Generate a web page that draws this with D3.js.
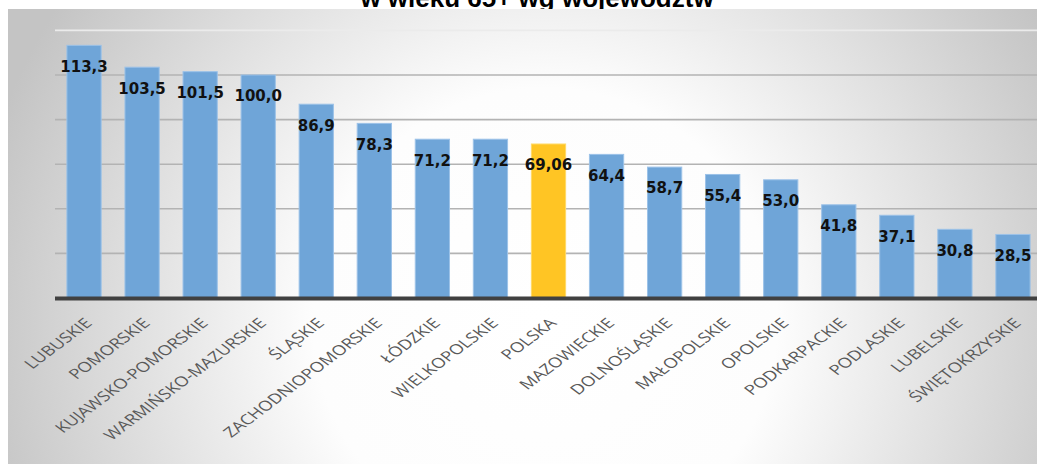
<!DOCTYPE html>
<html>
<head>
<meta charset="utf-8">
<script src="https://cdn.jsdelivr.net/npm/d3@7"></script>
<style>
  html, body { margin: 0; padding: 0; background: #ffffff; }
  svg { display: block; }
</style>
</head>
<body>
<svg id="chart" width="1037" height="464"></svg>
<script>
// ---- data ----
const categories = ["LUBUSKIE","POMORSKIE","KUJAWSKO-POMORSKIE","WARMIŃSKO-MAZURSKIE","ŚLĄSKIE",
  "ZACHODNIOPOMORSKIE","ŁÓDZKIE","WIELKOPOLSKIE","POLSKA","MAZOWIECKIE","DOLNOŚLĄSKIE",
  "MAŁOPOLSKIE","OPOLSKIE","PODKARPACKIE","PODLASKIE","LUBELSKIE","ŚWIĘTOKRZYSKIE"];
const values = [113.3,103.5,101.5,100.0,86.9,78.3,71.2,71.2,69.06,64.4,58.7,55.4,53.0,41.8,37.1,30.8,28.5];
const valueLabels = ["113,3","103,5","101,5","100,0","86,9","78,3","71,2","71,2","69,06","64,4","58,7","55,4","53,0","41,8","37,1","30,8","28,5"];
const highlight = ["POLSKA"];
const gridTicks = [20,40,60,80,100,120];
const titleText = "w wieku 65+ wg województw";

const W = 1037, H = 464;
const svg = d3.select("#chart");

// background gradient
const defs = svg.append("defs");
const rg = defs.append("radialGradient").attr("id","bg")
  .attr("gradientUnits","userSpaceOnUse")
  .attr("cx",545).attr("cy",320).attr("r",580);
rg.append("stop").attr("offset","0").attr("stop-color","#ffffff");
rg.append("stop").attr("offset","0.4").attr("stop-color","#fdfdfd");
rg.append("stop").attr("offset","1").attr("stop-color","#c4c4c4");

// title (mostly cut off at the top)
svg.append("text")
  .attr("x", 537).attr("y", 6.5)
  .attr("text-anchor","middle")
  .attr("font-family","'Liberation Sans', Arial, sans-serif")
  .attr("font-weight","bold")
  .attr("font-size", 26)
  .attr("fill","#000")
  .text(titleText);

svg.append("rect").attr("x",8).attr("y",9).attr("width",W-8).attr("height",H-9).attr("fill","url(#bg)");

const x = d3.scaleBand().domain(categories).range([55, 1042]).paddingInner(0.41).paddingOuter(0.205);
const y = d3.scaleLinear().domain([0,120]).range([298, 30.4]);

// gridlines
svg.append("g").selectAll("line").data(gridTicks).join("line")
  .attr("x1",55).attr("x2",W)
  .attr("y1",d=>y(d)).attr("y2",d=>y(d))
  .attr("stroke",d=> d===120 ? "#ebebeb" : "#b3b3b3")
  .attr("stroke-width",1.6);

// bars
svg.append("g").selectAll("rect").data(categories).join("rect")
  .attr("x",d=>x(d)).attr("width",x.bandwidth())
  .attr("y",(d,i)=>y(values[i])).attr("height",(d,i)=>y(0)-y(values[i]))
  .attr("fill",d=> highlight.includes(d) ? "#ffc524" : "#6fa5d8")
  .attr("stroke",d=> highlight.includes(d) ? "#ffd966" : "#9cc2e8")
  .attr("stroke-width",1);

// baseline
svg.append("line").attr("x1",55).attr("x2",W).attr("y1",y(0)+0.5).attr("y2",y(0)+0.5)
  .attr("stroke","#404040").attr("stroke-width",4);

// value labels
svg.append("g").selectAll("text").data(categories).join("text")
  .attr("x",d=>x(d)+x.bandwidth()/2)
  .attr("y",(d,i)=>y(values[i])+21)
  .attr("dy","0.36em")
  .attr("text-anchor","middle")
  .attr("font-family","'DejaVu Sans', Verdana, sans-serif")
  .attr("font-weight","bold")
  .attr("font-size",15)
  .attr("fill","#111")
  .text((d,i)=>valueLabels[i]);

// category labels (rotated, stretched like the reference)
svg.append("g").selectAll("text").data(categories).join("text")
  .attr("transform",d=>`translate(${x(d)+x.bandwidth()/2+9},324) scale(1.33,1) rotate(-45)`)
  .attr("text-anchor","end")
  .attr("font-family","'Open Sans', sans-serif")
  .attr("font-size",14)
  .attr("fill","#595959")
  .text(d=>d);
</script>
</body>
</html>
